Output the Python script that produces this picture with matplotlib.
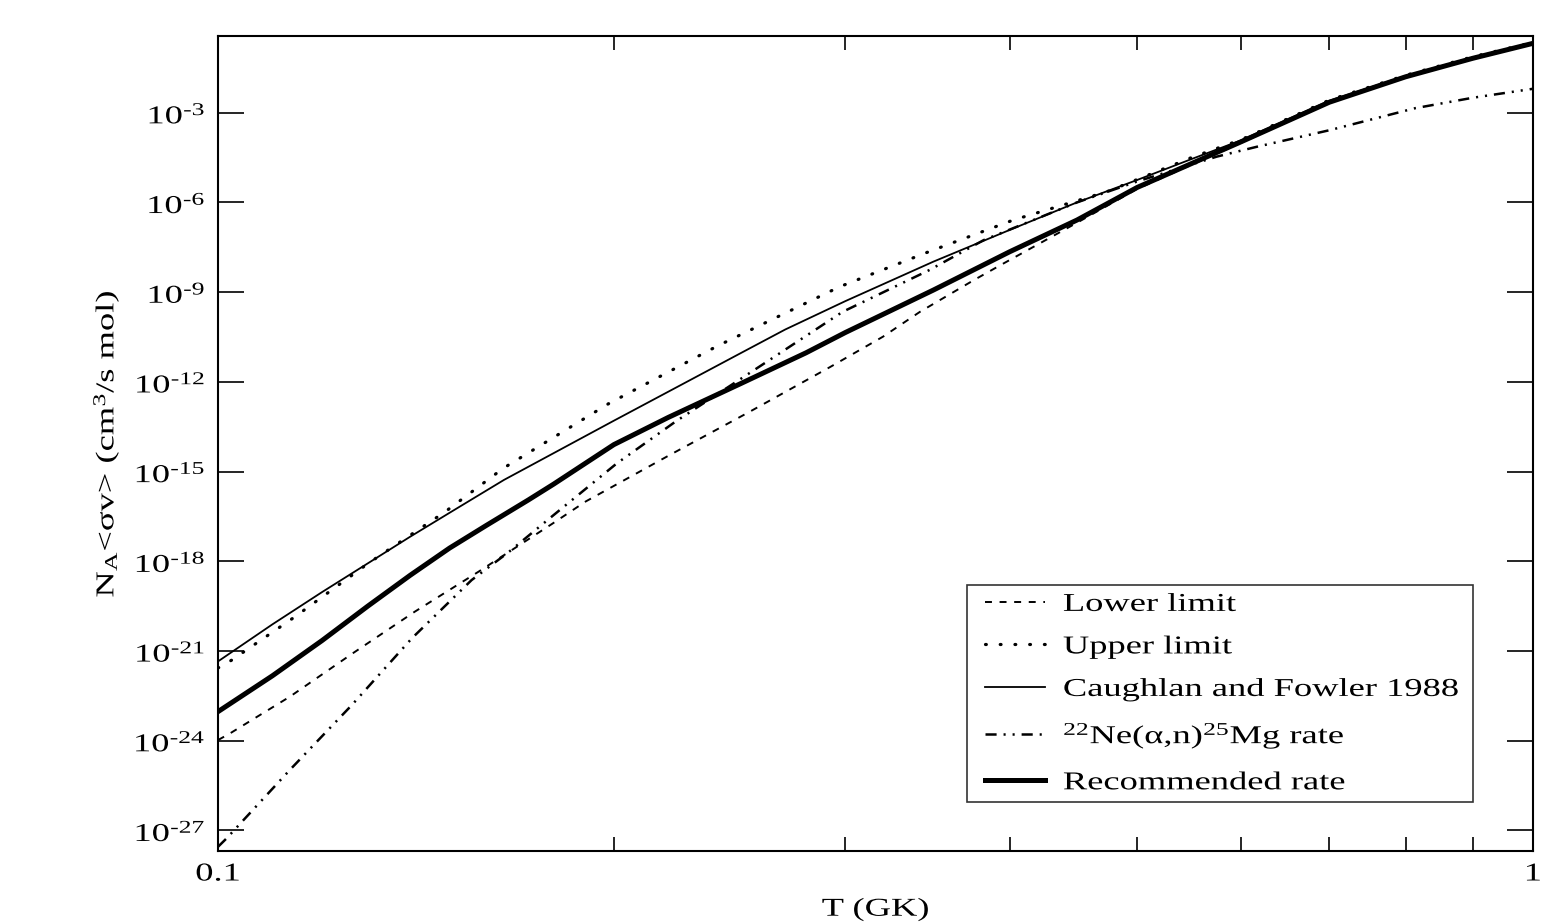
import matplotlib
matplotlib.use("Agg")
import matplotlib.pyplot as plt
import numpy as np
from matplotlib.ticker import FixedLocator, FixedFormatter, NullLocator
from matplotlib.patheffects import AbstractPathEffect
from matplotlib.transforms import Affine2D
from matplotlib.legend_handler import HandlerLine2D
from matplotlib.lines import Line2D

plt.rcParams['font.family'] = ['Liberation Serif', 'DejaVu Serif']
plt.rcParams['mathtext.fontset'] = 'custom'
plt.rcParams['mathtext.rm'] = 'Liberation Serif'
plt.rcParams['mathtext.it'] = 'Liberation Serif:italic'
plt.rcParams['mathtext.bf'] = 'Liberation Serif:bold'
plt.rcParams['lines.scale_dashes'] = False

# ---- data: temperature (GK) and log10 of rate N_A<sigma v> ----
T_rec = [0.1, 0.11, 0.12, 0.13, 0.14, 0.15, 0.16, 0.1722, 0.18, 0.2, 0.22, 0.25,
         0.28, 0.3, 0.35, 0.4, 0.45, 0.5, 0.55, 0.6, 0.7, 0.8, 0.9, 1.0]
lg_rec = [-23.03, -21.83, -20.65, -19.5, -18.47, -17.56, -16.8, -15.95, -15.42, -14.1,
          -13.19, -12.05, -11.03, -10.35, -8.93, -7.65, -6.59, -5.5, -4.7, -3.97,
          -2.65, -1.8, -1.18, -0.68]

T_cf = [0.1, 0.11, 0.12, 0.13, 0.14, 0.15, 0.165, 0.2, 0.25, 0.27, 0.3, 0.35, 0.4,
        0.45, 0.5, 0.55, 0.6, 0.7, 0.8, 0.9, 1.0]
lg_cf = [-21.35, -20.11, -19.03, -18.07, -17.18, -16.38, -15.28, -13.3, -11.03, -10.25,
         -9.3, -7.98, -6.92, -6.0, -5.25, -4.55, -3.92, -2.6, -1.77, -1.15, -0.66]

T_up = [0.1, 0.1024, 0.1144, 0.1301, 0.1488, 0.1648, 0.198, 0.2398, 0.297, 0.3457,
        0.4025, 0.4744, 0.55, 0.6, 0.7, 0.8, 0.9, 1.0]
lg_up = [-21.57, -21.31, -19.86, -18.07, -16.35, -14.89, -12.74, -10.80, -8.82, -7.68,
         -6.59, -5.64, -4.5, -3.9, -2.58, -1.75, -1.13, -0.65]

T_lo = [0.1, 0.1021, 0.1134, 0.1264, 0.1411, 0.1578, 0.1795, 0.1904, 0.2205, 0.2537,
        0.2922, 0.3204, 0.3418, 0.3756, 0.3935, 0.45, 0.5, 0.6, 0.7, 0.8, 0.9, 1.0]
lg_lo = [-23.98, -23.76, -22.53, -21.10, -19.69, -18.35, -16.75, -16.0, -14.45, -13.0,
         -11.5, -10.49, -9.66, -8.6, -8.1, -6.68, -5.55, -4.0, -2.67, -1.82, -1.2, -0.7]

T_ne = [0.1, 0.1015, 0.1134, 0.1264, 0.1404, 0.1559, 0.1663, 0.1789, 0.201, 0.2228,
        0.2614, 0.2985, 0.3476, 0.3822, 0.45, 0.5, 0.5747, 0.6165, 0.7011, 0.8134,
        0.9, 1.0]
lg_ne = [-27.55, -27.27, -24.98, -22.81, -20.58, -18.63, -17.7, -16.55, -14.73, -13.33,
         -11.33, -9.66, -8.26, -7.26, -6.0, -5.3, -4.47, -4.14, -3.58, -2.85, -2.5, -2.2]

labels = ["Lower limit", "Upper limit", "Caughlan and Fowler 1988",
          r"$^{22}$Ne(α,n)$^{25}$Mg rate", "Recommended rate"]

x_ticks = [0.1, 0.2, 0.3, 0.4, 0.5, 0.6, 0.7, 0.8, 0.9, 1.0]
x_ticklabels = ["0.1", "", "", "", "", "", "", "", "", "1"]
y_exps = [-27, -24, -21, -18, -15, -12, -9, -6, -3]


class HStretch(AbstractPathEffect):
    """Widen glyphs along the reading direction (the reference uses a wide serif)."""
    def __init__(self, sx, anchor='left'):
        super().__init__()
        self.sx = sx
        self.anchor = anchor

    def draw_path(self, renderer, gc, tpath, affine, rgbFace=None):
        ext = tpath.get_extents()
        if self.anchor == 'left':
            cx = 0.0
        elif self.anchor == 'right':
            cx = ext.x1
        else:
            cx = 0.5 * (ext.x0 + ext.x1)
        pre = Affine2D().translate(-cx, 0).scale(self.sx, 1.0).translate(cx, 0)
        renderer.draw_path(gc, tpath, pre + affine, rgbFace)


SX = 1.42
fs = 18.5
fig = plt.figure(figsize=(15.61, 9.22), dpi=100)
ax = fig.add_axes([218/1561, 1-851/922, 1315/1561, 815/922])

p = lambda v: 10.0 ** np.array(v)
ax.plot(T_lo, p(lg_lo), color='black', lw=1.4, dashes=(5, 5.5), label=labels[0])
ax.plot(T_up, p(lg_up), color='black', lw=2.3, dashes=(0.6, 10), dash_capstyle='round',
        label=labels[1])
ax.plot(T_cf, p(lg_cf), color='black', lw=1.3, label=labels[2])
ax.plot(T_ne, p(lg_ne), color='black', lw=1.8, dashes=(8, 5, 1.5, 5, 1.5, 5), label=labels[3])
ax.plot(T_rec, p(lg_rec), color='black', lw=3.6, label=labels[4])

ax.set_xscale('log')
ax.set_yscale('log')
ax.set_xlim(0.1, 1.0)
ax.set_ylim(10 ** -27.69, 10 ** -0.435)

ax.xaxis.set_major_locator(FixedLocator(x_ticks))
ax.xaxis.set_major_formatter(FixedFormatter(x_ticklabels))
ax.xaxis.set_minor_locator(NullLocator())
ax.yaxis.set_major_locator(FixedLocator([10.0 ** e for e in y_exps]))
ax.yaxis.set_major_formatter(FixedFormatter([r"$10^{\text{-}%d}$" % (-e) for e in y_exps]))
ax.yaxis.set_minor_locator(NullLocator())

ax.tick_params(axis='x', which='major', direction='in', length=10, width=1.2,
               top=True, bottom=True, labelsize=fs, pad=9)
ax.tick_params(axis='y', which='major', direction='in', length=19, width=1.2,
               left=True, right=True, labelsize=fs, pad=9)
for s in ax.spines.values():
    s.set_linewidth(1.5)

xl = ax.set_xlabel("T (GK)", fontsize=fs)
ax.xaxis.set_label_coords(0.5, -0.0577)
yl = ax.set_ylabel(r"N$_{\mathregular{A}}$<σv> (cm$^{3}$/s mol)", fontsize=fs)
ax.yaxis.set_label_coords(-0.073, 0.5)

leg = ax.legend(loc='lower left', bbox_to_anchor=(0.5696, 0.0601, 0.3848, 0.2663),
                mode='expand', fontsize=fs, frameon=True, fancybox=False, shadow=False,
                handlelength=2.73, handletextpad=0.7, labelspacing=0.76, borderpad=0.3,
                borderaxespad=0, handler_map={Line2D: HandlerLine2D(xpad=0.4)})
leg.get_frame().set_edgecolor('black')
leg.get_frame().set_linewidth(1.2)

for t in ax.get_yticklabels():
    t.set_path_effects([HStretch(SX, 'right')])
for t in ax.get_xticklabels():
    t.set_path_effects([HStretch(SX, 'center')])
xl.set_path_effects([HStretch(SX, 'center')])
yl.set_path_effects([HStretch(SX, 'center')])
for t in leg.get_texts():
    t.set_path_effects([HStretch(SX, 'left')])

fig.savefig("out.png", dpi=100)
